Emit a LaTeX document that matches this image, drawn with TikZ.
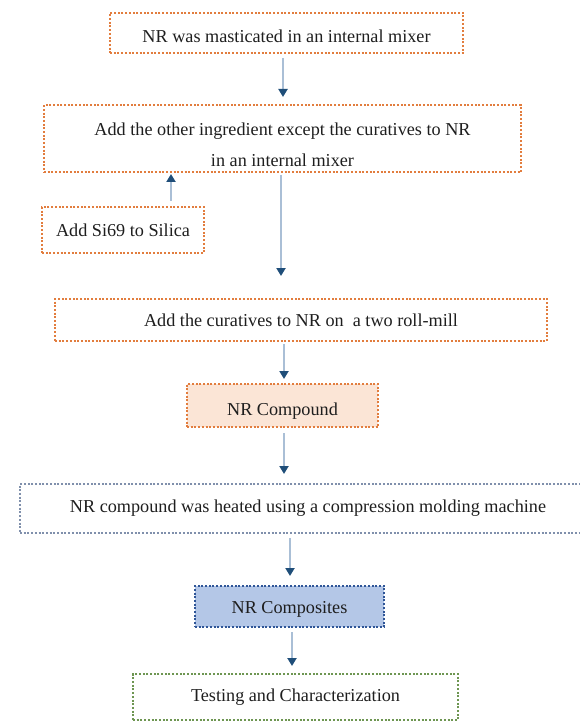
\documentclass[tikz,border=0pt]{standalone}
\usepackage{fontspec}
\setmainfont{Liberation Serif}
\usepackage{tikz}
\usetikzlibrary{arrows.meta}
\definecolor{orgc}{RGB}{226,125,62}
\definecolor{grayc}{RGB}{128,144,172}
\definecolor{bluec}{RGB}{47,85,151}
\definecolor{grnc}{RGB}{110,150,82}
\definecolor{orgfill}{RGB}{251,229,214}
\definecolor{bluefill}{RGB}{180,199,231}
\definecolor{shaftc}{RGB}{170,191,214}
\definecolor{tipc}{RGB}{31,78,121}
\definecolor{txtc}{RGB}{30,30,30}
\newcommand{\lowtext}[2]{\raisebox{-#1}[\height][\depth]{#2}}

\begin{document}
\begin{tikzpicture}[x=1pt,y=-1pt,font=\fontsize{18.2}{21}\selectfont,
  stepbox/.style={draw=orgc,line width=2pt,dash pattern=on 2pt off 1.7pt,text=txtc,inner sep=0pt},
  flow/.style={shaftc,line width=2.5pt,-{Triangle[length=8pt,width=9pt,color=tipc]}}]
\useasboundingbox (0,0) rectangle (579,722);
% mixing steps
\node[stepbox,minimum width=353pt,minimum height=40pt] (mast) at (286.5,33) {\lowtext{3pt}{NR was masticated in an internal mixer}};
\node[stepbox,minimum width=477pt,minimum height=67pt] (other) at (282.5,138.5) {\lowtext{8pt}{\begin{tabular}{@{}c@{}}Add the other ingredient except the curatives to NR\\[10pt]in an internal mixer\end{tabular}}};
\node[stepbox,minimum width=162pt,minimum height=46pt] (silane) at (123,230) {Add Si69 to Silica};
\node[stepbox,minimum width=492pt,minimum height=42pt] (cure) at (301,320) {Add the curatives to NR on\ \ a two roll-mill\hspace{20pt}};
\node[stepbox,fill=orgfill,minimum width=191pt,minimum height=43pt] (cmpd) at (282.5,405.5) {\lowtext{6pt}{NR Compound}\hspace{10pt}};
% curing and testing
\node[stepbox,draw=grayc,minimum width=576pt,minimum height=49pt] (heat) at (308,508.5) {NR compound was heated using a compression molding machine};
\node[stepbox,draw=bluec,fill=bluefill,minimum width=189pt,minimum height=41pt] (comp) at (289.5,606.5) {\lowtext{2.5pt}{NR Composites}};
\node[stepbox,draw=grnc,minimum width=325pt,minimum height=46pt] (test) at (295.5,697) {Testing and Characterization};
% arrows
\draw[flow,shorten <=4pt,shorten >=7pt] ([xshift=-3.5pt]mast.south) -- ([xshift=0.5pt]other.north);
\draw[flow,shorten <=5pt,shorten >=1pt] ([xshift=48pt]silane.north) -- ([xshift=-111.5pt]other.south);
\draw[flow,shorten <=2pt,shorten >=22pt] ([xshift=-1.5pt]other.south) -- ([xshift=-20pt]cure.north);
\draw[flow,shorten <=2pt,shorten >=4pt] ([xshift=-17pt]cure.south) -- ([xshift=1.5pt]cmpd.north);
\draw[flow,shorten <=5pt,shorten >=9pt] ([xshift=1.5pt]cmpd.south) -- ([xshift=-24pt]heat.north);
\draw[flow,shorten <=4pt,shorten >=9pt] ([xshift=-18pt]heat.south) -- ([xshift=0.5pt]comp.north);
\draw[flow,shorten <=4pt,shorten >=7pt] ([xshift=2.5pt]comp.south) -- ([xshift=-3.5pt]test.north);
\end{tikzpicture}
\end{document}
